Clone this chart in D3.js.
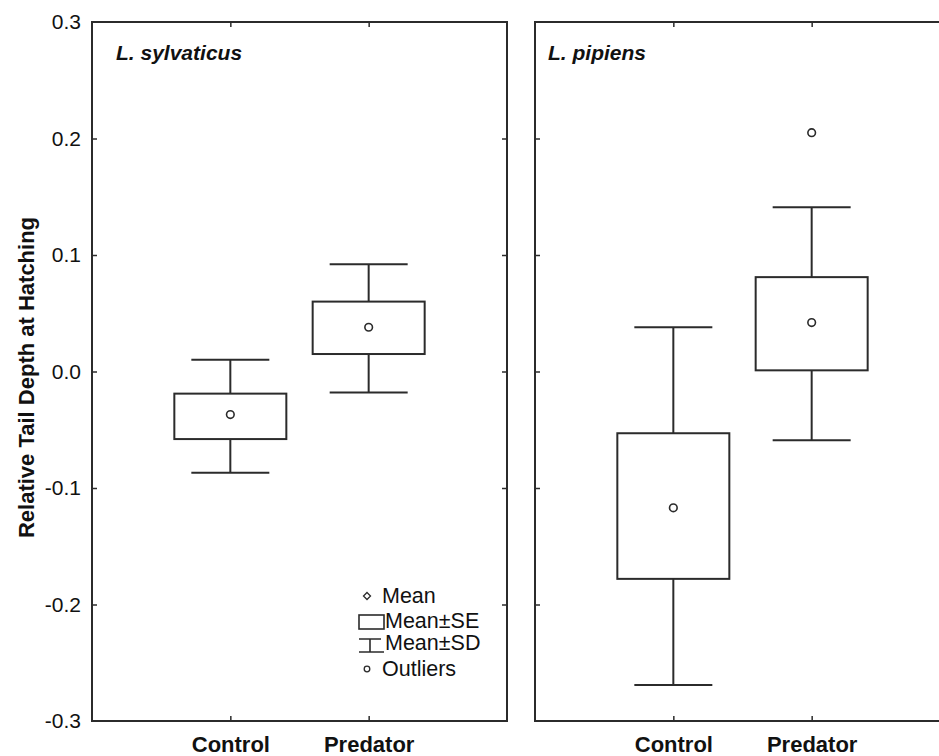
<!DOCTYPE html>
<html>
<head>
<meta charset="utf-8">
<script src="https://cdn.jsdelivr.net/npm/d3@7"></script>
<style>
  body { margin: 0; background: #fff; }
  svg { display: block; font-family: "Liberation Sans", Arial, sans-serif; }
</style>
</head>
<body>
<svg id="chart" width="939" height="756"></svg>
<script>
// values
const groups = ["Control", "Predator"];
const yTicks = [-0.3, -0.2, -0.1, 0.0, 0.1, 0.2, 0.3];

const sylvMean = [-0.037, 0.038];
const sylvSeLo = [-0.058, 0.015];
const sylvSeHi = [-0.019, 0.060];
const sylvSdLo = [-0.087, -0.018];
const sylvSdHi = [0.010, 0.092];
const sylvOutliers = [];

const pipMean = [-0.117, 0.042];
const pipSeLo = [-0.178, 0.001];
const pipSeHi = [-0.053, 0.081];
const pipSdLo = [-0.269, -0.059];
const pipSdHi = [0.038, 0.141];
const pipOutliers = [{group: "Predator", value: 0.205}];

const legendItems = ["Mean", "Mean±SE", "Mean±SD", "Outliers"];

function rows(mean, seLo, seHi, sdLo, sdHi) {
  return groups.map((g, i) => ({group: g, mean: mean[i], seLo: seLo[i], seHi: seHi[i], sdLo: sdLo[i], sdHi: sdHi[i]}));
}

const panels = [
  {title: "L. sylvaticus", left: 92, titleDx: 24, data: rows(sylvMean, sylvSeLo, sylvSeHi, sylvSdLo, sylvSdHi), outliers: sylvOutliers, labels: true, legend: true},
  {title: "L. pipiens", left: 535, titleDx: 13, data: rows(pipMean, pipSeLo, pipSeHi, pipSdLo, pipSdHi), outliers: pipOutliers, labels: false, legend: false}
];

const ink = "#2b2b2b";
const plotTop = 22, plotBottom = 721, panelW = 415;
const boxW = 112, capW = 78;
const fmt = d => d.toFixed(1); // plain hyphen for negatives, as in the original

const svg = d3.select("#chart");

const y = d3.scaleLinear().domain([-0.3, 0.3]).range([plotBottom, plotTop]);

// y axis title
svg.append("text")
  .attr("transform", `translate(34, ${(plotTop + plotBottom) / 2 + 6}) rotate(-90)`)
  .attr("text-anchor", "middle")
  .attr("font-size", 22)
  .attr("font-weight", "bold")
  .attr("fill", "#111")
  .text("Relative Tail Depth at Hatching");

panels.forEach(p => {
  const x = d3.scalePoint().domain(["", ...groups, " "]).range([p.left, p.left + panelW]);
  const g = svg.append("g");

  // inward ticks on all four sides
  const yl = g.append("g").attr("transform", `translate(${p.left},0)`)
    .call(d3.axisLeft(y).tickValues(yTicks.slice(1, -1)).tickSize(-5).tickSizeOuter(0).tickPadding(11)
      .tickFormat(p.labels ? fmt : ""));
  g.append("g").attr("transform", `translate(${p.left + panelW},0)`)
    .call(d3.axisRight(y).tickValues(yTicks.slice(1, -1)).tickSize(-5).tickSizeOuter(0).tickFormat(""));
  g.append("g").attr("transform", `translate(0,${plotTop})`)
    .call(d3.axisTop(x).tickValues(groups).tickSize(-5).tickSizeOuter(0).tickFormat(""));
  const xb = g.append("g").attr("transform", `translate(0,${plotBottom})`)
    .call(d3.axisBottom(x).tickValues(groups).tickSize(-5).tickSizeOuter(0).tickPadding(15));

  g.selectAll(".domain").remove();
  g.selectAll(".tick line").attr("stroke", ink).attr("stroke-width", 1.5);

  if (p.labels) {
    // end labels 0.3 / -0.3 sit at the corners
    yl.selectAll(".tick text").attr("font-size", 21).attr("fill", "#111").attr("font-family", null);
    yl.selectAll(".end").data([yTicks[0], yTicks[yTicks.length - 1]]).enter().append("text")
      .attr("x", -11).attr("y", d => y(d)).attr("dy", "0.32em")
      .attr("text-anchor", "end").attr("font-size", 21).attr("fill", "#111")
      .text(fmt);
  }
  xb.selectAll(".tick text")
    .attr("font-size", 22).attr("font-weight", "bold").attr("fill", "#111").attr("font-family", null)
    .attr("dy", "0.71em");

  // frame
  g.append("rect")
    .attr("x", p.left).attr("y", plotTop).attr("width", panelW).attr("height", plotBottom - plotTop)
    .attr("fill", "none").attr("stroke", ink).attr("stroke-width", 2);

  g.append("text")
    .attr("x", p.left + p.titleDx).attr("y", plotTop + 38)
    .attr("font-size", 21).attr("font-weight", "bold").attr("font-style", "italic").attr("fill", "#111")
    .text(p.title);

  const box = g.selectAll(".box").data(p.data).enter().append("g")
    .attr("fill", "none").attr("stroke", ink).attr("stroke-width", 2);

  box.append("line")
    .attr("x1", d => x(d.group)).attr("x2", d => x(d.group))
    .attr("y1", d => y(d.sdHi)).attr("y2", d => y(d.seHi));
  box.append("line")
    .attr("x1", d => x(d.group)).attr("x2", d => x(d.group))
    .attr("y1", d => y(d.seLo)).attr("y2", d => y(d.sdLo));
  box.append("line")
    .attr("x1", d => x(d.group) - capW / 2).attr("x2", d => x(d.group) + capW / 2)
    .attr("y1", d => y(d.sdHi)).attr("y2", d => y(d.sdHi));
  box.append("line")
    .attr("x1", d => x(d.group) - capW / 2).attr("x2", d => x(d.group) + capW / 2)
    .attr("y1", d => y(d.sdLo)).attr("y2", d => y(d.sdLo));
  box.append("rect")
    .attr("x", d => x(d.group) - boxW / 2).attr("width", boxW)
    .attr("y", d => y(d.seHi)).attr("height", d => y(d.seLo) - y(d.seHi))
    .attr("fill", "#fff");
  box.append("circle")
    .attr("cx", d => x(d.group)).attr("cy", d => y(d.mean)).attr("r", 3.8)
    .attr("fill", "#fff").attr("stroke-width", 1.6);

  g.selectAll(".outlier").data(p.outliers).enter().append("circle")
    .attr("cx", d => x(d.group)).attr("cy", d => y(d.value)).attr("r", 3.8)
    .attr("fill", "#fff").attr("stroke", ink).attr("stroke-width", 1.6);

  if (p.legend) {
    const lg = g.append("g").attr("transform", "translate(359,596)")
      .attr("fill", "none").attr("stroke", ink);
    // mean: small diamond
    lg.append("path").attr("d", "M8,-3.5L11.5,0L8,3.5L4.5,0Z").attr("stroke-width", 1.3);
    // SE box
    lg.append("rect").attr("x", 0).attr("y", 19).attr("width", 25).attr("height", 14).attr("stroke-width", 1.6);
    // SD whisker
    lg.append("path").attr("d", "M0,43H22M11,43V56M0,56H25").attr("stroke-width", 1.6);
    // outlier
    lg.append("circle").attr("cx", 8).attr("cy", 73).attr("r", 2.8).attr("stroke-width", 1.3);

    lg.selectAll("text").data(legendItems).enter().append("text")
      .attr("x", (d, i) => (i === 0 || i === 3) ? 23 : 26)
      .attr("y", (d, i) => [7, 32, 54, 80][i])
      .attr("stroke", "none").attr("fill", "#111").attr("font-size", 21.5)
      .text(d => d);
  }
});
</script>
</body>
</html>
